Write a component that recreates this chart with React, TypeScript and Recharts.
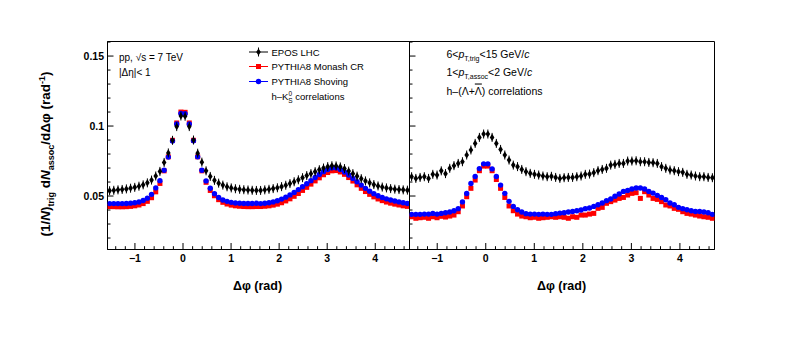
import React from "react";
import { ScatterChart, Scatter, XAxis, YAxis, ReferenceArea } from "recharts";

const PI = Math.PI;
const X_MIN = -PI / 2;
const X_MAX = (3 * PI) / 2;
const Y_MIN = 0.0118;
const Y_MAX = 0.1604;

// 72 bins of width pi/36 across [-pi/2, 3pi/2]
const binCenters = Array.from({ length: 72 }, (_, i) => X_MIN + (i + 0.5) * (PI / 36));

const xTicks = [
  -1.4, -1.2, -1, -0.8, -0.6, -0.4, -0.2, 0, 0.2, 0.4, 0.6, 0.8, 1, 1.2, 1.4, 1.6, 1.8, 2, 2.2, 2.4, 2.6, 2.8, 3,
  3.2, 3.4, 3.6, 3.8, 4, 4.2, 4.4, 4.6,
];
const xLabels = [-1, 0, 1, 2, 3, 4];
const yTicks = [0.02, 0.03, 0.04, 0.05, 0.06, 0.07, 0.08, 0.09, 0.1, 0.11, 0.12, 0.13, 0.14, 0.15, 0.16];
const yLabels = [0.05, 0.1, 0.15];

// h-K0S panel
const k0sEpos = [
  0.0538, 0.0541, 0.0544, 0.0547, 0.0551, 0.0556, 0.0562, 0.057, 0.058, 0.0594, 0.0614, 0.0643, 0.0676, 0.074, 0.0808,
  0.0898, 0.0996, 0.1072, 0.107, 0.0996, 0.09, 0.0806, 0.0742, 0.068, 0.064, 0.0612, 0.0592, 0.0578, 0.0566, 0.0558,
  0.0552, 0.0548, 0.0545, 0.0543, 0.0541, 0.054, 0.054, 0.0544, 0.0548, 0.0553, 0.0559, 0.0567, 0.0577, 0.0589, 0.0602,
  0.0616, 0.0631, 0.0646, 0.066, 0.0674, 0.0688, 0.07, 0.071, 0.0716, 0.0715, 0.0708, 0.0696, 0.0678, 0.066, 0.0642,
  0.0624, 0.0608, 0.0594, 0.0582, 0.0572, 0.0564, 0.0558, 0.0553, 0.0549, 0.0546, 0.0544, 0.0542,
];
const k0sMonash = [
  0.0425, 0.0424, 0.0423, 0.0423, 0.0424, 0.0426, 0.043, 0.0436, 0.0446, 0.0462, 0.0488, 0.053, 0.059, 0.068, 0.078,
  0.0898, 0.1022, 0.11, 0.1098, 0.1022, 0.0898, 0.078, 0.068, 0.0598, 0.054, 0.0502, 0.0474, 0.0455, 0.0443, 0.0435,
  0.043, 0.0427, 0.0425, 0.0424, 0.0424, 0.0425, 0.0425, 0.0427, 0.043, 0.0435, 0.0442, 0.0452, 0.0465, 0.048, 0.0498,
  0.0518, 0.054, 0.0562, 0.0585, 0.0608, 0.063, 0.0652, 0.0668, 0.068, 0.0682, 0.0672, 0.0655, 0.0632, 0.0607, 0.058,
  0.0555, 0.0532, 0.0512, 0.0494, 0.0479, 0.0467, 0.0457, 0.0449, 0.0442, 0.0436, 0.043, 0.0426,
];
const k0sShoving = [
  0.0446, 0.0446, 0.0446, 0.0446, 0.0447, 0.0449, 0.0452, 0.0457, 0.0468, 0.0485, 0.0512, 0.0558, 0.061, 0.0684, 0.0778,
  0.0893, 0.1015, 0.109, 0.1088, 0.1015, 0.0895, 0.078, 0.0684, 0.0608, 0.0556, 0.0516, 0.049, 0.0472, 0.0462, 0.0455,
  0.045, 0.0448, 0.0447, 0.0447, 0.0447, 0.0448, 0.0446, 0.0448, 0.0452, 0.0458, 0.0466, 0.0478, 0.0492, 0.0508, 0.0526,
  0.0546, 0.0566, 0.0588, 0.061, 0.0632, 0.0654, 0.0674, 0.069, 0.0702, 0.0702, 0.069, 0.0672, 0.065, 0.0626, 0.0602,
  0.0578, 0.0555, 0.0535, 0.0517, 0.0502, 0.049, 0.048, 0.0472, 0.0465, 0.0458, 0.0452, 0.0447,
];

// h-(Lambda+antiLambda) panel
const lamEpos = [
  0.0638, 0.0626, 0.0633, 0.0638, 0.0626, 0.0655, 0.065, 0.068, 0.066, 0.0698, 0.0717, 0.0733, 0.0745, 0.0793, 0.0829,
  0.0876, 0.0919, 0.0943, 0.0943, 0.0919, 0.0876, 0.0833, 0.0793, 0.0757, 0.0721, 0.071, 0.069, 0.0674, 0.0662, 0.0655,
  0.065, 0.0643, 0.0638, 0.0641, 0.0633, 0.0626, 0.0631, 0.0633, 0.0633, 0.0638, 0.0643, 0.0655, 0.0657, 0.0667, 0.0681,
  0.069, 0.0698, 0.0721, 0.0726, 0.0733, 0.0733, 0.075, 0.075, 0.0752, 0.0745, 0.0745, 0.074, 0.0738, 0.0733, 0.071,
  0.0698, 0.0686, 0.0681, 0.0674, 0.0669, 0.0655, 0.065, 0.0643, 0.0638, 0.0638, 0.0633, 0.0631,
];
const lamMonash = [
  0.0352, 0.0341, 0.0345, 0.0348, 0.0341, 0.0352, 0.0345, 0.0355, 0.035, 0.0357, 0.0364, 0.0388, 0.0429, 0.0495, 0.0555,
  0.0614, 0.0681, 0.0714, 0.0714, 0.0681, 0.0618, 0.0555, 0.049, 0.0429, 0.0395, 0.0371, 0.0357, 0.0352, 0.0345, 0.0348,
  0.0341, 0.0345, 0.0348, 0.0352, 0.0348, 0.0352, 0.0348, 0.0341, 0.0352, 0.0348, 0.0364, 0.0364, 0.0371, 0.0376, 0.0412,
  0.0419, 0.0448, 0.046, 0.0471, 0.0483, 0.049, 0.0507, 0.0519, 0.0524, 0.0483, 0.0531, 0.0507, 0.0483, 0.0476, 0.046,
  0.0436, 0.0429, 0.0412, 0.0405, 0.0388, 0.0376, 0.0371, 0.0364, 0.0357, 0.0352, 0.0348, 0.0341,
];
const lamShoving = [
  0.0369, 0.0369, 0.0369, 0.0371, 0.0371, 0.0376, 0.0371, 0.0376, 0.0381, 0.0386, 0.0395, 0.041, 0.0458, 0.0518, 0.059,
  0.064, 0.0696, 0.073, 0.073, 0.0694, 0.064, 0.0578, 0.0519, 0.0462, 0.0426, 0.0402, 0.0386, 0.0374, 0.0371, 0.0371,
  0.0369, 0.0371, 0.0369, 0.0369, 0.0374, 0.0378, 0.0381, 0.0386, 0.039, 0.0395, 0.04, 0.041, 0.0414, 0.0426, 0.0438,
  0.045, 0.0467, 0.0479, 0.0498, 0.0514, 0.0533, 0.054, 0.055, 0.0557, 0.0557, 0.055, 0.0533, 0.0521, 0.0505, 0.049,
  0.0474, 0.045, 0.0438, 0.0419, 0.041, 0.0402, 0.0395, 0.039, 0.039, 0.0386, 0.0381, 0.0369,
];

const FONT = '"Liberation Sans", Arial, Helvetica, sans-serif';

const toRows = (vals: number[]) => binCenters.map((x, i) => ({ x, y: vals[i] }));

const Diamond = ({ cx, cy }: { cx: number; cy: number }) => (
  <g>
    <line x1={cx} x2={cx} y1={cy - 4.5} y2={cy + 4.5} stroke="#000" strokeWidth={1} />
    <path d={`M${cx},${cy - 3.6}L${cx + 2.3},${cy}L${cx},${cy + 3.6}L${cx - 2.3},${cy}Z`} fill="#000" />
  </g>
);
const Square = ({ cx, cy }: { cx: number; cy: number }) => (
  <rect x={cx - 2.5} y={cy - 2.5} width={5} height={5} fill="#ff0000" />
);
const Dot = ({ cx, cy }: { cx: number; cy: number }) => <circle cx={cx} cy={cy} r={2.7} fill="#0000ff" />;

// ROOT-style ticks pointing into the frame
const XTick = (props: any) => {
  const { x, y, payload } = props;
  const v = payload.value;
  const major = xLabels.includes(v);
  return (
    <g>
      <line x1={x} x2={x} y1={y} y2={y - (major ? 6.5 : 3.3)} stroke="#000" />
      {major && (
        <text x={x} y={y + 12} textAnchor="middle" fontSize={10.5} fontWeight="bold" fill="#000" fontFamily={FONT}>
          {v < 0 ? `\u2212${-v}` : v}
        </text>
      )}
    </g>
  );
};

const makeYTick = (showLabels: boolean) => (props: any) => {
  const { x, y, payload } = props;
  const v = payload.value;
  const major = yLabels.includes(v);
  return (
    <g>
      <line x1={x} x2={x + (major ? 6 : 3)} y1={y} y2={y} stroke="#000" />
      {showLabels && major && (
        <text x={x - 3.5} y={y + 3.8} textAnchor="end" fontSize={10.5} fontWeight="bold" fill="#000" fontFamily={FONT}>
          {v}
        </text>
      )}
    </g>
  );
};

type PanelProps = {
  left: number;
  width: number;
  yAxisWidth: number;
  rightMargin: number;
  showLabels: boolean;
  epos: number[];
  monash: number[];
  shoving: number[];
};

function Panel({ left, width, yAxisWidth, rightMargin, showLabels, epos, monash, shoving }: PanelProps) {
  return (
    <div style={{ position: "absolute", left, top: 0 }}>
      <ScatterChart width={width} height={337} margin={{ top: 41.5, right: rightMargin, bottom: 57.5, left: 0 }}>
        <XAxis
          type="number"
          dataKey="x"
          domain={[X_MIN, X_MAX]}
          allowDataOverflow
          ticks={xTicks}
          interval={0}
          tickSize={0}
          tickMargin={0}
          tickLine={false}
          tick={XTick}
          axisLine={{ stroke: "#000" }}
          height={30}
        />
        <YAxis
          type="number"
          dataKey="y"
          domain={[Y_MIN, Y_MAX]}
          allowDataOverflow
          ticks={yTicks}
          interval={0}
          tickSize={0}
          tickMargin={0}
          tickLine={false}
          tick={makeYTick(showLabels)}
          axisLine={{ stroke: "#000" }}
          width={yAxisWidth}
        />
        <ReferenceArea x1={X_MIN} x2={X_MAX} y1={Y_MIN} y2={Y_MAX} fill="none" stroke="#000" strokeWidth={1} />
        <Scatter data={toRows(monash)} isAnimationActive={false} shape={(p: any) => <Square cx={p.cx} cy={p.cy} />} />
        <Scatter data={toRows(shoving)} isAnimationActive={false} shape={(p: any) => <Dot cx={p.cx} cy={p.cy} />} />
        <Scatter data={toRows(epos)} isAnimationActive={false} shape={(p: any) => <Diamond cx={p.cx} cy={p.cy} />} />
      </ScatterChart>
    </div>
  );
}

const legendRows = [
  { label: "EPOS LHC", y: 52, marker: "diamond", color: "#000" },
  { label: "PYTHIA8 Monash CR", y: 66.5, marker: "square", color: "#ff0000" },
  { label: "PYTHIA8 Shoving", y: 81.5, marker: "circle", color: "#0000ff" },
];

function Overlay() {
  return (
    <svg
      width={789}
      height={337}
      style={{ position: "absolute", left: 0, top: 0, pointerEvents: "none" }}
      fontFamily={FONT}
    >
      {/* y axis title */}
      <text transform="translate(50,154) rotate(-90)" textAnchor="middle" fontWeight="bold" fontSize={13.5} fill="#000">
        (1/<tspan fontStyle="italic">N</tspan>)
        <tspan dy={3.5} fontSize={9}>
          trig
        </tspan>
        <tspan dy={-3.5}> d</tspan>
        <tspan fontStyle="italic">N</tspan>
        <tspan dy={3.5} fontSize={9}>
          assoc
        </tspan>
        <tspan dy={-3.5}>/dΔφ (rad</tspan>
        <tspan dy={-5.5} fontSize={9}>
          -1
        </tspan>
        <tspan dy={5.5}>)</tspan>
      </text>

      {/* x axis titles */}
      <text x={257.5} y={289.5} textAnchor="middle" fontWeight="bold" fontSize={12.5} fill="#000">
        Δφ (rad)
      </text>
      <text x={561.5} y={289.5} textAnchor="middle" fontWeight="bold" fontSize={12.5} fill="#000">
        Δφ (rad)
      </text>

      {/* left panel text */}
      <text x={119} y={60.5} fontSize={10} fill="#000">
        pp, √s = 7 TeV
      </text>
      <text x={119} y={75.5} fontSize={10} fill="#000">
        |Δη|&lt; 1
      </text>

      {/* legend */}
      {legendRows.map((r) => (
        <g key={r.label}>
          <line x1={249} x2={268} y1={r.y} y2={r.y} stroke={r.color} strokeWidth={1} />
          {r.marker === "diamond" && <Diamond cx={258.5} cy={r.y} />}
          {r.marker === "square" && <Square cx={258.5} cy={r.y} />}
          {r.marker === "circle" && <Dot cx={258.5} cy={r.y} />}
          <text x={271.5} y={r.y + 3.5} fontSize={9.5} fill="#000">
            {r.label}
          </text>
        </g>
      ))}
      <text x={271.5} y={99.5} fontSize={9.5} fill="#000">
        h–K
        <tspan dy={-4} fontSize={6.5}>
          0
        </tspan>
        <tspan dx={-3.7} dy={7} fontSize={6.5}>
          S
        </tspan>
        <tspan dy={-3}> correlations</tspan>
      </text>

      {/* right panel text */}
      <text x={446.5} y={57.5} fontSize={10.5} fill="#000">
        6&lt;<tspan fontStyle="italic">p</tspan>
        <tspan dy={3} fontSize={7}>
          T,trig
        </tspan>
        <tspan dy={-3}>&lt;15 GeV/</tspan>
        <tspan fontStyle="italic">c</tspan>
      </text>
      <text x={446.5} y={76} fontSize={10.5} fill="#000">
        1&lt;<tspan fontStyle="italic">p</tspan>
        <tspan dy={3} fontSize={7}>
          T,assoc
        </tspan>
        <tspan dy={-3}>&lt;2 GeV/</tspan>
        <tspan fontStyle="italic">c</tspan>
      </text>
      <text x={446.5} y={94.5} fontSize={10.5} fill="#000">
        h–(Λ+<tspan style={{ textDecoration: "overline" }}>Λ</tspan>) correlations
      </text>
    </svg>
  );
}

export default function App() {
  return (
    <div
      style={{
        position: "absolute",
        left: 0,
        top: 0,
        width: 789,
        height: 337,
        background: "#fff",
        overflow: "hidden",
        fontFamily: FONT,
      }}
    >
      <Panel
        left={0}
        width={420}
        yAxisWidth={107.5}
        rightMargin={10.5}
        showLabels
        epos={k0sEpos}
        monash={k0sMonash}
        shoving={k0sShoving}
      />
      <Panel
        left={400}
        width={389}
        yAxisWidth={9.5}
        rightMargin={74.5}
        showLabels={false}
        epos={lamEpos}
        monash={lamMonash}
        shoving={lamShoving}
      />
      <Overlay />
    </div>
  );
}
